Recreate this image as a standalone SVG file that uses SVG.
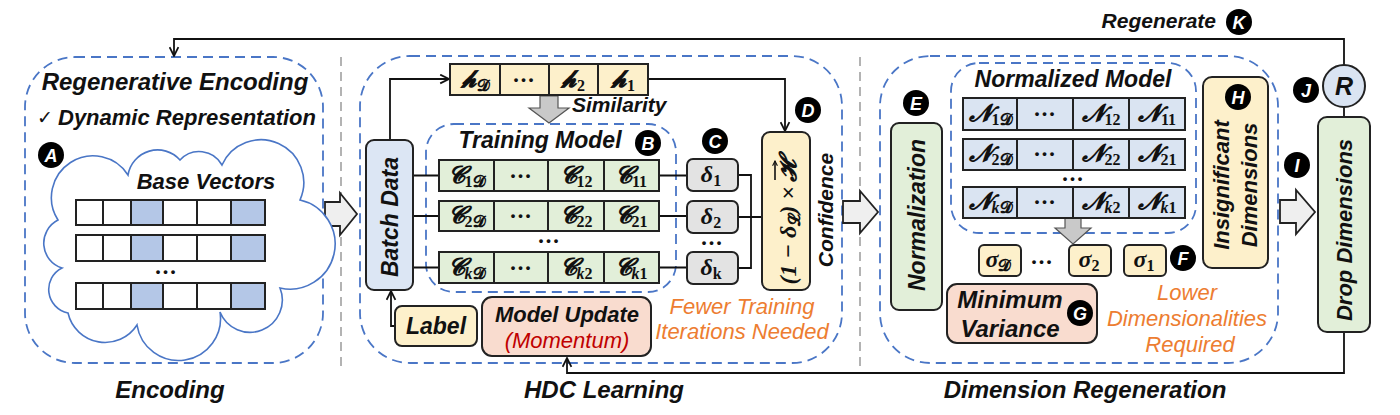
<svg xmlns="http://www.w3.org/2000/svg" width="1400" height="415" viewBox="0 0 1400 415">
<defs>
<style>
.dash{fill:none;stroke:#4a76c6;stroke-width:1.8;stroke-dasharray:10 6}
.sep{fill:none;stroke:#b3b3b3;stroke-width:2;stroke-dasharray:9 6}
.ln{fill:none;stroke:#111;stroke-width:1.8}
.bx{stroke:#222;stroke-width:2}
.cell{stroke:#222;stroke-width:2}
.yel{fill:#fdf0cb}
.grn{fill:#e2efd9}
.blu{fill:#dae4f2}
.gry{fill:#e3e3e3}
.sal{fill:#f9dccf}
.big{fill:#efefef;stroke:#222;stroke-width:1.8}
.garr{fill:#c9c9c9;stroke:#555;stroke-width:1.2}
.t{font-family:"Liberation Sans",Arial,sans-serif;font-weight:bold;font-style:italic;fill:#111}
.o{font-family:"Liberation Sans",Arial,sans-serif;font-style:italic;fill:#ed7d31;font-size:22px;text-anchor:middle}
.m{font-family:"Liberation Serif","DejaVu Serif",serif;font-weight:bold;font-style:italic;fill:#111;font-size:24px;text-anchor:middle}
.sb{font-size:16px;font-style:normal}
.dots{font-family:"Liberation Sans",Arial,sans-serif;font-weight:bold;fill:#111;font-size:13px;text-anchor:middle;letter-spacing:3px}
.lc{fill:#000}
.lt{font-family:"Liberation Sans",Arial,sans-serif;font-weight:bold;font-style:italic;fill:#fff;font-size:18px;text-anchor:middle}
.bv{fill:#fff;stroke:#222;stroke-width:2}
.bvb{fill:#b4c7e7;stroke:#222;stroke-width:2}
</style>
<marker id="ah" viewBox="0 0 10 10" refX="9" refY="5" markerWidth="11" markerHeight="11" markerUnits="userSpaceOnUse" orient="auto">
<path d="M1,1 L9,5 L1,9" fill="none" stroke="#111" stroke-width="1.6"/>
</marker>
<marker id="vh" viewBox="0 0 10 10" refX="9" refY="5" markerWidth="6" markerHeight="6" markerUnits="userSpaceOnUse" orient="auto">
<path d="M1,1 L9,5 L1,9" fill="none" stroke="#111" stroke-width="1.8"/>
</marker>
</defs>
<rect width="1400" height="415" fill="#fff"/>

<!-- separators and panels -->
<line class="sep" x1="341" y1="57" x2="341" y2="368"/>
<line class="sep" x1="860" y1="57" x2="860" y2="368"/>
<rect class="dash" x="25" y="57" width="298" height="306" rx="50"/>
<rect class="dash" x="360" y="56" width="482" height="307" rx="50"/>
<rect class="dash" x="426" y="124" width="250" height="168" rx="28"/>
<rect class="dash" x="880" y="56" width="398" height="307" rx="50"/>
<rect class="dash" x="951" y="63" width="245" height="170" rx="28"/>

<!-- connectors -->
<g id="connectors">
<path class="ln" d="M1344,65 V39 H174 V56" marker-end="url(#ah)"/>
<path class="ln" d="M1344,332 V373 H567 V358" marker-end="url(#ah)"/>
<path class="ln" d="M1344,107 V117"/>
<path class="ln" d="M390,140 V79 H449" marker-end="url(#ah)"/>
<path class="ln" d="M648,79 H785 V131" marker-end="url(#ah)"/>
<path class="ln" d="M395,326 H391 V291" marker-end="url(#ah)"/>
<path class="ln" d="M413,175.5 H439 M413,216 H439 M413,267.5 H439"/>
<path class="ln" d="M659,175.5 H687 M659,216 H687 M659,267.5 H687"/>
<path class="ln" d="M738,175 H751 V268 H738 M738,217 H762"/>
<path class="big" d="M325,202 H340 V193 L357,214 L340,235 V226 H325 Z"/>
<path class="big" d="M843,201 H860 V191 L878,212 L860,233 V223 H843 Z"/>
<path class="big" d="M1280,200 H1296 V190 L1315,212 L1296,234 V223 H1280 Z"/>
<path class="garr" d="M540,96 H558 V108 H569 L549,123 L529,108 H540 Z"/>
<path class="garr" d="M1065,218 H1081 V228 H1091 L1073,244 L1055,228 H1065 Z"/>
</g>

<!-- Encoding -->
<g id="encoding">
<text class="t" x="175" y="90" font-size="24" text-anchor="middle">Regenerative Encoding</text>
<text x="37" y="124" font-family="DejaVu Sans,sans-serif" font-size="19" fill="#111">✓</text>
<text class="t" x="58" y="125" font-size="22">Dynamic Representation</text>
<circle class="lc" cx="51" cy="155" r="13"/><text class="lt" x="51" y="161.5">A</text>
<path d="M58,220 A38,38 0 0 1 128,175 A30,30 0 0 1 180,160 A26,26 0 0 1 222,165 A42,42 0 0 1 300,200 A25,25 0 0 1 280,288 A32,32 0 0 1 220,312 A42,42 0 0 1 137,325 A38,38 0 0 1 68,313 A24,24 0 0 1 62,268 A26,26 0 0 1 58,220 Z" fill="#fff" stroke="#4a76c6" stroke-width="1.6"/>
<text class="t" x="206" y="189" font-size="22" text-anchor="middle">Base Vectors</text>
<g id="vec1">
<rect class="bv" x="76" y="200" width="27" height="25"/><rect class="bv" x="103" y="200" width="28" height="25"/><rect class="bvb" x="131" y="200" width="32" height="25"/><rect class="bv" x="163" y="200" width="34" height="25"/><rect class="bv" x="197" y="200" width="34" height="25"/><rect class="bvb" x="231" y="200" width="34" height="25"/>
</g>
<g id="vec2">
<rect class="bv" x="76" y="235" width="27" height="26"/><rect class="bv" x="103" y="235" width="28" height="26"/><rect class="bvb" x="131" y="235" width="32" height="26"/><rect class="bv" x="163" y="235" width="34" height="26"/><rect class="bv" x="197" y="235" width="34" height="26"/><rect class="bvb" x="231" y="235" width="34" height="26"/>
</g>
<text class="dots" x="167" y="276">•••</text>
<g id="vec3">
<rect class="bv" x="76" y="283" width="27" height="26"/><rect class="bv" x="103" y="283" width="28" height="26"/><rect class="bvb" x="131" y="283" width="32" height="26"/><rect class="bv" x="163" y="283" width="34" height="26"/><rect class="bv" x="197" y="283" width="34" height="26"/><rect class="bvb" x="231" y="283" width="34" height="26"/>
</g>
<text class="t" x="170" y="398" font-size="24" text-anchor="middle">Encoding</text>
</g>

<!-- HDC Learning -->
<g id="batch-data">
<rect class="bx" x="366" y="140" width="47" height="150" rx="8" fill="#dce6f4"/>
<text class="t" font-size="23" text-anchor="middle" transform="translate(390,217) rotate(-90)" y="8">Batch Data</text>
</g>
<g id="h-vector">
<rect class="cell yel" x="450" y="64" width="50" height="31"/><rect class="cell yel" x="500" y="64" width="49" height="31"/><rect class="cell yel" x="549" y="64" width="49" height="31"/><rect class="cell yel" x="598" y="64" width="50" height="31"/>
<text class="m" x="475" y="87">𝓱<tspan class="sb" dy="4">𝓓</tspan></text>
<text class="dots" x="525" y="84">•••</text>
<text class="m" x="573" y="87">𝓱<tspan class="sb" dy="4">2</tspan></text>
<text class="m" x="623" y="87">𝓱<tspan class="sb" dy="4">1</tspan></text>
</g>
<text class="t" x="572" y="112" font-size="21">Similarity</text>
<g id="training-model">
<text class="t" x="540" y="148" font-size="23" text-anchor="middle">Training Model</text>
<circle class="lc" cx="648" cy="143" r="13"/><text class="lt" x="648" y="149.5">B</text>
<rect class="cell grn" x="439" y="160" width="55" height="31"/><rect class="cell grn" x="494" y="160" width="54" height="31"/><rect class="cell grn" x="548" y="160" width="56" height="31"/><rect class="cell grn" x="604" y="160" width="55" height="31"/>
<text class="m" x="466" y="183">𝓒<tspan class="sb" dy="4">1𝓓</tspan></text>
<text class="dots" x="522" y="180">•••</text>
<text class="m" x="576" y="183">𝓒<tspan class="sb" dy="4">12</tspan></text>
<text class="m" x="631" y="183">𝓒<tspan class="sb" dy="4">11</tspan></text>
<rect class="cell grn" x="439" y="201" width="55" height="30"/><rect class="cell grn" x="494" y="201" width="54" height="30"/><rect class="cell grn" x="548" y="201" width="56" height="30"/><rect class="cell grn" x="604" y="201" width="55" height="30"/>
<text class="m" x="466" y="223">𝓒<tspan class="sb" dy="4">2𝓓</tspan></text>
<text class="dots" x="522" y="220">•••</text>
<text class="m" x="576" y="223">𝓒<tspan class="sb" dy="4">22</tspan></text>
<text class="m" x="631" y="223">𝓒<tspan class="sb" dy="4">21</tspan></text>
<text class="dots" x="550" y="245">•••</text>
<rect class="cell grn" x="439" y="252" width="55" height="31"/><rect class="cell grn" x="494" y="252" width="54" height="31"/><rect class="cell grn" x="548" y="252" width="56" height="31"/><rect class="cell grn" x="604" y="252" width="55" height="31"/>
<text class="m" x="466" y="275">𝓒<tspan class="sb" dy="4"><tspan font-style="italic">k</tspan>𝓓</tspan></text>
<text class="dots" x="522" y="272">•••</text>
<text class="m" x="576" y="275">𝓒<tspan class="sb" dy="4"><tspan font-style="italic">k</tspan>2</tspan></text>
<text class="m" x="631" y="275">𝓒<tspan class="sb" dy="4"><tspan font-style="italic">k</tspan>1</tspan></text>
</g>
<g id="deltas">
<circle class="lc" cx="715" cy="141" r="13"/><text class="lt" x="715" y="147.5">C</text>
<rect class="bx gry" x="687" y="159" width="51" height="32" rx="6"/>
<text class="m" x="711" y="182" font-size="22">δ<tspan class="sb" dy="4">1</tspan></text>
<rect class="bx gry" x="687" y="201" width="51" height="32" rx="6"/>
<text class="m" x="711" y="224" font-size="22">δ<tspan class="sb" dy="4">2</tspan></text>
<text class="dots" x="713" y="247">•••</text>
<rect class="bx gry" x="687" y="252" width="51" height="32" rx="6"/>
<text class="m" x="711" y="275" font-size="22">δ<tspan class="sb" dy="4" font-style="italic">k</tspan></text>
</g>
<g id="confidence">
<circle class="lc" cx="808" cy="110" r="13"/><text class="lt" x="808" y="116.5">D</text>
<rect class="bx yel" x="762" y="132" width="48" height="158" rx="8"/>
<g transform="translate(788,214) rotate(-90)">
<text class="m" font-size="22" x="28" y="8" style="text-anchor:end">(1 − δ<tspan class="sb" dy="4">𝓛</tspan><tspan dy="-4">) ×</tspan></text>
<text class="m" font-size="22" x="43" y="8">𝓗</text>
<path d="M34,-13 H53" fill="none" stroke="#111" stroke-width="1.6" marker-end="url(#vh)"/>
</g>
<text class="t" font-size="21" text-anchor="middle" transform="translate(825,210) rotate(-90)" y="8">Confidence</text>
</g>
<g id="label">
<rect class="bx yel" x="395" y="306" width="82" height="40" rx="7"/>
<text class="t" x="436" y="334" font-size="23" text-anchor="middle">Label</text>
</g>
<g id="model-update">
<rect class="bx sal" x="482" y="297" width="169" height="59" rx="10"/>
<text class="t" x="567" y="322" font-size="22" text-anchor="middle">Model Update</text>
<text x="567" y="348" font-family="Liberation Sans,Arial,sans-serif" font-style="italic" font-size="22" fill="#c00000" text-anchor="middle">(Momentum)</text>
</g>
<text class="o" x="742" y="314">Fewer Training</text>
<text class="o" x="742" y="339">Iterations Needed</text>
<text class="t" x="604" y="398" font-size="24" text-anchor="middle">HDC Learning</text>

<!-- Dimension Regeneration -->
<g id="normalization">
<circle class="lc" cx="916" cy="103" r="13"/><text class="lt" x="916" y="109.5">E</text>
<rect class="bx grn" x="891" y="123" width="51" height="187" rx="8"/>
<text class="t" font-size="23" text-anchor="middle" transform="translate(917,215) rotate(-90)" y="8">Normalization</text>
</g>
<g id="normalized-model">
<text class="t" x="1073" y="87" font-size="23" text-anchor="middle">Normalized Model</text>
<rect class="cell blu" x="963" y="98" width="54" height="32"/><rect class="cell blu" x="1017" y="98" width="56" height="32"/><rect class="cell blu" x="1073" y="98" width="56" height="32"/><rect class="cell blu" x="1129" y="98" width="56" height="32"/>
<text class="m" x="990" y="121">𝓝<tspan class="sb" dy="4">1𝓓</tspan></text>
<text class="dots" x="1046" y="118">•••</text>
<text class="m" x="1101" y="121">𝓝<tspan class="sb" dy="4">12</tspan></text>
<text class="m" x="1157" y="121">𝓝<tspan class="sb" dy="4">11</tspan></text>
<rect class="cell blu" x="963" y="139" width="54" height="31"/><rect class="cell blu" x="1017" y="139" width="56" height="31"/><rect class="cell blu" x="1073" y="139" width="56" height="31"/><rect class="cell blu" x="1129" y="139" width="56" height="31"/>
<text class="m" x="990" y="161">𝓝<tspan class="sb" dy="4">2𝓓</tspan></text>
<text class="dots" x="1046" y="158">•••</text>
<text class="m" x="1101" y="161">𝓝<tspan class="sb" dy="4">22</tspan></text>
<text class="m" x="1157" y="161">𝓝<tspan class="sb" dy="4">21</tspan></text>
<text class="dots" x="1074" y="183">•••</text>
<rect class="cell blu" x="963" y="187" width="54" height="31"/><rect class="cell blu" x="1017" y="187" width="56" height="31"/><rect class="cell blu" x="1073" y="187" width="56" height="31"/><rect class="cell blu" x="1129" y="187" width="56" height="31"/>
<text class="m" x="990" y="209">𝓝<tspan class="sb" dy="4"><tspan font-style="italic">k</tspan>𝓓</tspan></text>
<text class="dots" x="1046" y="206">•••</text>
<text class="m" x="1101" y="209">𝓝<tspan class="sb" dy="4"><tspan font-style="italic">k</tspan>2</tspan></text>
<text class="m" x="1157" y="209">𝓝<tspan class="sb" dy="4"><tspan font-style="italic">k</tspan>1</tspan></text>
</g>
<g id="variances">
<rect class="bx yel" x="979" y="245" width="42" height="31" rx="5"/>
<text class="m" x="998" y="267" font-size="24">σ<tspan class="sb" dy="4">𝓓</tspan></text>
<text class="dots" x="1043" y="266">•••</text>
<rect class="bx yel" x="1069" y="245" width="42" height="31" rx="5"/>
<text class="m" x="1089" y="267" font-size="24">σ<tspan class="sb" dy="4">2</tspan></text>
<rect class="bx yel" x="1124" y="245" width="42" height="31" rx="5"/>
<text class="m" x="1144" y="267" font-size="24">σ<tspan class="sb" dy="4">1</tspan></text>
<circle class="lc" cx="1183" cy="258" r="13"/><text class="lt" x="1183" y="264.5">F</text>
</g>
<g id="minimum-variance">
<rect class="bx sal" x="947" y="284" width="150" height="59" rx="10"/>
<text class="t" x="1010" y="308" font-size="24" text-anchor="middle">Minimum</text>
<text class="t" x="1010" y="337" font-size="24" text-anchor="middle">Variance</text>
<circle class="lc" cx="1080" cy="313" r="13"/><text class="lt" x="1080" y="319.5">G</text>
</g>
<text class="o" x="1187" y="300">Lower</text>
<text class="o" x="1187" y="326">Dimensionalities</text>
<text class="o" x="1190" y="352">Required</text>
<g id="insignificant">
<rect class="bx yel" x="1203" y="77" width="65" height="191" rx="9"/>
<circle class="lc" cx="1238" cy="97" r="13"/><text class="lt" x="1238" y="103.5">H</text>
<text class="t" font-size="22" text-anchor="middle" transform="translate(1236,185) rotate(-90)" y="-7">Insignificant</text>
<text class="t" font-size="22" text-anchor="middle" transform="translate(1236,185) rotate(-90)" y="21">Dimensions</text>
</g>
<circle class="lc" cx="1297" cy="165" r="13"/><text class="lt" x="1297" y="171.5">I</text>
<g id="drop-dimensions">
<rect class="bx grn" x="1318" y="117" width="52" height="215" rx="9"/>
<text class="t" font-size="22" text-anchor="middle" transform="translate(1344,230) rotate(-90)" y="8">Drop Dimensions</text>
</g>
<g id="regenerate-r">
<circle cx="1344" cy="86" r="21" fill="#dae4f2" stroke="#222" stroke-width="2"/>
<text class="t" x="1344" y="95" font-size="25" text-anchor="middle">R</text>
<circle class="lc" cx="1306" cy="90" r="13"/><text class="lt" x="1306" y="96.5">J</text>
</g>
<text class="t" x="1216" y="28" font-size="21" text-anchor="end">Regenerate</text>
<circle class="lc" cx="1239" cy="22" r="13"/><text class="lt" x="1239" y="28.5">K</text>
<text class="t" x="1085" y="398" font-size="24" text-anchor="middle">Dimension Regeneration</text>
</svg>
